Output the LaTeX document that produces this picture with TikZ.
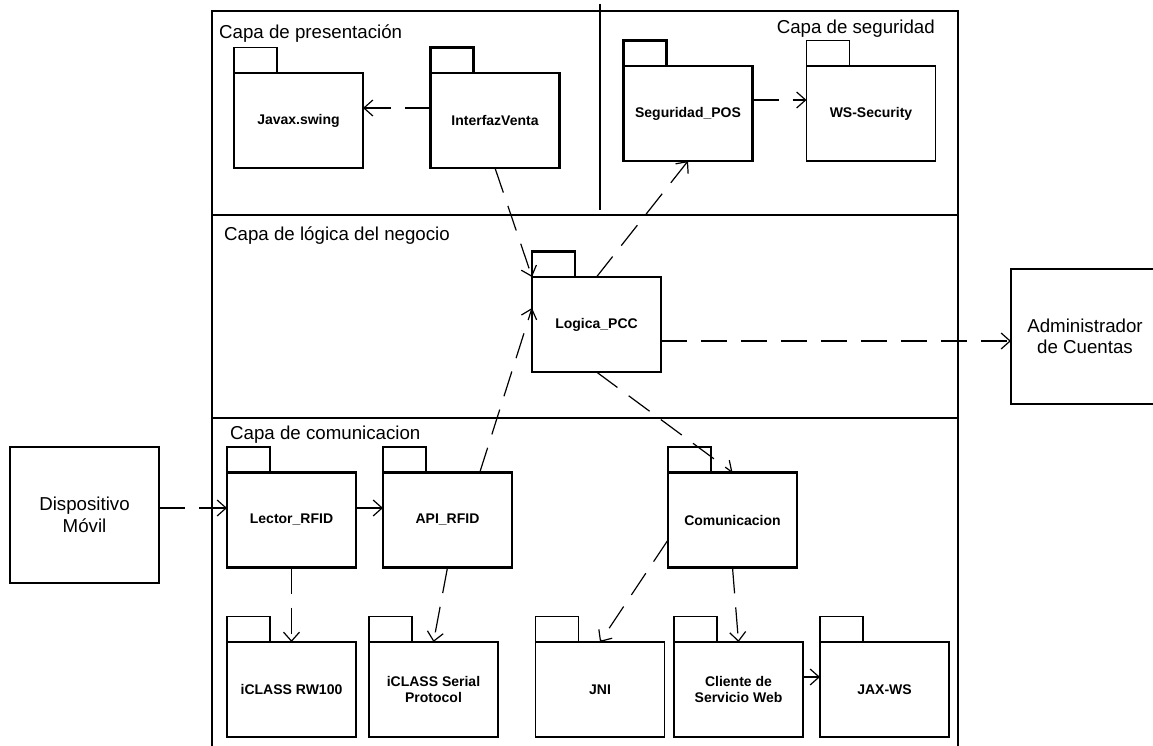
\documentclass[tikz,border=0pt]{standalone}
\usepackage{fontspec}
\setmainfont{Liberation Sans}
\usetikzlibrary{arrows.meta,calc}

\tikzset{
  frameline/.style={line width=1.2pt},
  pkgbody/.style={draw, line width=1.2pt, minimum width=129pt, minimum height=95pt,
    inner sep=0pt, outer sep=0pt, align=center,
    font=\fontsize{14}{16.5}\selectfont\bfseries},
  pkgthick/.style={line width=2.6pt},
  pkgtab/.style={draw, line width=1.2pt, minimum width=43pt, minimum height=25.5pt,
    inner sep=0pt, outer sep=0pt, anchor=south west},
  layerlabel/.style={inner sep=0pt, font=\fontsize{18.7}{21.5}\selectfont},
  actorbox/.style={draw, line width=1.2pt, inner sep=0pt, outer sep=0pt, align=center,
    font=\fontsize{18.7}{21.5}\selectfont},
  dep/.style={line width=1.2pt, dash pattern=on 26pt off 14pt,
    -{Straight Barb[length=9pt,width=16pt]}},
}

% UML package: body node plus its tab on the upper left corner
% #1 name, #2 centre, #3 extra style, #4 label
\newcommand{\umlpkg}[4]{%
  \node[pkgbody,#3] (#1) at (#2) {#4};
  \node[pkgtab,#3] (#1-tab) at (#1.north west) {};
}

\begin{document}
\begin{tikzpicture}[x=1pt,y=-1pt]
  \useasboundingbox (0,0) rectangle (1153,746);
  \clip (0,0) rectangle (1153,746);

  % layer frame
  \draw[frameline] (212,750) -- (212,11) -- (958,11) -- (958,750);
  \draw[frameline] (212,215) -- (958,215);
  \draw[frameline] (212,418) -- (958,418);
  \draw[frameline] (600,4) -- (600,210);

  % layer titles
  \node[layerlabel, anchor=base west] (lpres) at (219,39) {Capa de presentación};
  \node[layerlabel, anchor=base east] (lseg) at (935,34) {Capa de seguridad};
  \node[layerlabel, anchor=base west] (lbiz) at (224,240) {Capa de lógica del negocio};
  \node[layerlabel, anchor=base west] (lcom) at (230,439) {Capa de comunicacion};

  % packages
  \umlpkg{javax}{298.5,120.5}{}{Javax.swing}
  \umlpkg{iv}{495,120.5}{pkgthick}{InterfazVenta}
  \umlpkg{seg}{688,113.5}{pkgthick}{Seguridad\_POS}
  \umlpkg{ws}{871,113.5}{}{WS-Security}
  \umlpkg{logica}{596.5,324.5}{pkgthick}{Logica\_PCC}
  \umlpkg{lector}{291.5,520}{pkgthick}{Lector\_RFID}
  \umlpkg{api}{447.5,520}{pkgthick}{API\_RFID}
  \umlpkg{com}{732.5,520}{pkgthick}{Comunicacion}
  \umlpkg{rw}{291.5,689.5}{}{iCLASS RW100}
  \umlpkg{serial}{433.5,689.5}{}{iCLASS Serial\\Protocol}
  \umlpkg{jni}{600,689.5}{}{JNI}
  \umlpkg{cliente}{738.5,689.5}{}{Cliente de\\Servicio Web}
  \umlpkg{jaxws}{884.5,689.5}{}{JAX-WS}

  % external actors
  \node[actorbox, minimum width=149pt, minimum height=136pt] (disp) at (84.5,515)
    {Dispositivo\\Móvil};
  \node[actorbox, minimum width=148pt, minimum height=135pt] (admin) at (1085,336.5)
    {Administrador\\de Cuentas};

  % dependencies
  \draw[dep] (iv.west |- 0,108) -- (javax.east |- 0,108);
  \draw[dep] (iv.south) -- (logica.north west);
  \draw[dep] (logica.north) -- (seg.south);
  \draw[dep] (seg.east |- 0,100) -- (ws.west |- 0,100);
  \draw[dep] (logica.east |- 0,341) -- (admin.west |- 0,341);
  \draw[dep] ($(api.north)!0.5!(api.north east)$) -- (logica.west |- 0,308);
  \draw[dep] (logica.south) -- (com.north);
  \draw[dep] (disp.east |- 0,508) -- (lector.west |- 0,508);
  \draw[dep] (lector.east |- 0,508) -- (api.west |- 0,508);
  \draw[dep] (lector.south) -- (rw.north);
  \draw[dep] (api.south) -- (serial.north);
  \draw[dep] (com.west |- 0,540) -- (jni.north);
  \draw[dep] (com.south) -- (cliente.north);
  \draw[dep] (cliente.east |- 0,677) -- (jaxws.west |- 0,677);
\end{tikzpicture}
\end{document}
